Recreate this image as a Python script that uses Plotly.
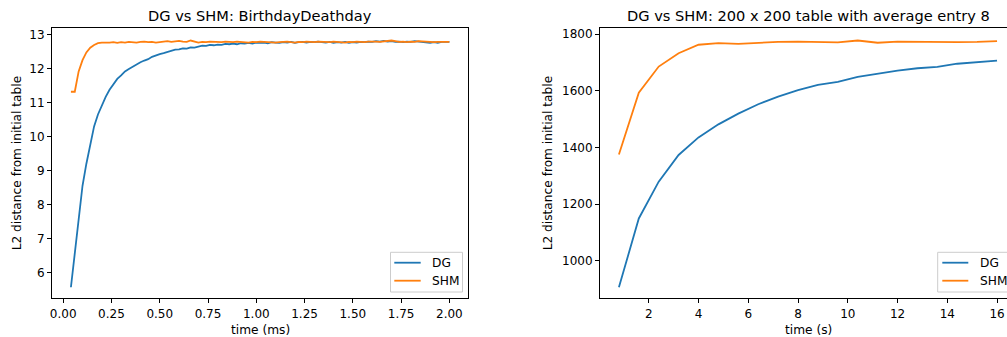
import plotly.graph_objects as go

# ---------------- data ----------------
time_ms = [0.04, 0.06, 0.08, 0.10, 0.12, 0.14, 0.16, 0.18, 0.20, 0.22, 0.24, 0.26, 0.28, 0.30,
           0.32, 0.34, 0.36, 0.38, 0.40, 0.42, 0.44, 0.46, 0.48, 0.50, 0.52, 0.54, 0.56, 0.58,
           0.60, 0.62, 0.64, 0.66, 0.68, 0.70, 0.72, 0.74, 0.76, 0.78, 0.80, 0.82, 0.84, 0.86,
           0.88, 0.90, 0.92, 0.94, 0.96, 0.98, 1.00, 1.02, 1.04, 1.06, 1.08, 1.10, 1.12, 1.14,
           1.16, 1.18, 1.20, 1.22, 1.24, 1.26, 1.28, 1.30, 1.32, 1.34, 1.36, 1.38, 1.40, 1.42,
           1.44, 1.46, 1.48, 1.50, 1.52, 1.54, 1.56, 1.58, 1.60, 1.62, 1.64, 1.66, 1.68, 1.70,
           1.72, 1.74, 1.76, 1.78, 1.80, 1.82, 1.84, 1.86, 1.88, 1.90, 1.92, 1.94, 1.96, 1.98,
           2.00]
dg_birthday = [5.56, 6.55, 7.65, 8.55, 9.20, 9.80, 10.30, 10.65, 10.93, 11.17, 11.38, 11.55, 11.70,
               11.80, 11.92, 11.99, 12.06, 12.13, 12.19, 12.24, 12.28, 12.35, 12.40, 12.43, 12.46,
               12.50, 12.53, 12.56, 12.57, 12.60, 12.59, 12.63, 12.62, 12.66, 12.68, 12.67, 12.70,
               12.69, 12.71, 12.70, 12.73, 12.72, 12.74, 12.72, 12.75, 12.74, 12.76, 12.74, 12.77,
               12.76, 12.77, 12.75, 12.78, 12.77, 12.76, 12.78, 12.77, 12.79, 12.76, 12.78, 12.79,
               12.77, 12.79, 12.78, 12.80, 12.78, 12.77, 12.79, 12.76, 12.78, 12.77, 12.79, 12.76,
               12.78, 12.77, 12.79, 12.78, 12.80, 12.79, 12.81, 12.80, 12.82, 12.80, 12.81, 12.79,
               12.80, 12.78, 12.80, 12.79, 12.81, 12.80, 12.79, 12.77, 12.76, 12.78, 12.76, 12.79,
               12.80, 12.79]
shm_birthday = [11.32, 11.32, 11.92, 12.25, 12.48, 12.62, 12.70, 12.75, 12.77, 12.76, 12.77, 12.78,
                12.76, 12.78, 12.77, 12.79, 12.78, 12.77, 12.79, 12.80, 12.78, 12.79, 12.77, 12.78,
                12.80, 12.81, 12.79, 12.80, 12.82, 12.80, 12.79, 12.83, 12.81, 12.77, 12.79, 12.78,
                12.80, 12.79, 12.77, 12.78, 12.80, 12.79, 12.78, 12.80, 12.79, 12.78, 12.77, 12.79,
                12.78, 12.80, 12.79, 12.78, 12.79, 12.77, 12.78, 12.79, 12.80, 12.78, 12.77, 12.79,
                12.78, 12.80, 12.79, 12.78, 12.80, 12.79, 12.77, 12.78, 12.80, 12.79, 12.78, 12.77,
                12.79, 12.78, 12.80, 12.79, 12.78, 12.80, 12.81, 12.80, 12.79, 12.81, 12.82, 12.83,
                12.81, 12.79, 12.80, 12.78, 12.80, 12.79, 12.81, 12.80, 12.79, 12.80, 12.78, 12.79,
                12.78, 12.79, 12.79]

time_s = [0.8, 1.6, 2.4, 3.2, 4.0, 4.8, 5.6, 6.4, 7.2, 8.0, 8.8, 9.6, 10.4, 11.2, 12.0, 12.8,
          13.6, 14.4, 15.2, 16.0]
dg_table = [907, 1150, 1280, 1374, 1436, 1482, 1520, 1553, 1580, 1603, 1621, 1632, 1650, 1662,
            1672, 1680, 1685, 1696, 1702, 1707]
shm_table = [1376, 1594, 1686, 1733, 1763, 1769, 1766, 1770, 1773, 1774, 1773, 1771, 1778, 1770,
             1774, 1773, 1772, 1772, 1773, 1776]

x_ticks_left = [0.0, 0.25, 0.5, 0.75, 1.0, 1.25, 1.5, 1.75, 2.0]
y_ticks_left = [6, 7, 8, 9, 10, 11, 12, 13]
x_ticks_right = [2, 4, 6, 8, 10, 12, 14, 16]
y_ticks_right = [1000, 1200, 1400, 1600, 1800]

BLUE = "#1f77b4"
ORANGE = "#ff7f0e"
FONT = "DejaVu Sans"
W, H = 1007, 337


def px(x):
    return x / W


def py(y):
    return (H - y) / H


fig = go.Figure()
fig.add_trace(go.Scatter(x=time_ms, y=dg_birthday, mode="lines", line=dict(color=BLUE, width=1.8),
                         name="DG", xaxis="x", yaxis="y", showlegend=False))
fig.add_trace(go.Scatter(x=time_ms, y=shm_birthday, mode="lines", line=dict(color=ORANGE, width=1.8),
                         name="SHM", xaxis="x", yaxis="y", showlegend=False))
fig.add_trace(go.Scatter(x=time_s, y=dg_table, mode="lines", line=dict(color=BLUE, width=1.8),
                         name="DG", xaxis="x2", yaxis="y2", showlegend=False))
fig.add_trace(go.Scatter(x=time_s, y=shm_table, mode="lines", line=dict(color=ORANGE, width=1.8),
                         name="SHM", xaxis="x2", yaxis="y2", showlegend=False))

tickfont = dict(family=FONT, size=12, color="black")
common = dict(showgrid=False, zeroline=False, showline=True, linecolor="black", linewidth=1,
              ticks="outside", ticklen=4, tickwidth=1, tickcolor="black", tickfont=tickfont)

ydom = [py(298.3), py(28.3)]

fig.update_layout(
    width=W, height=H,
    margin=dict(l=0, r=0, t=0, b=0, autoexpand=False),
    paper_bgcolor="white", plot_bgcolor="white",
    font=dict(family=FONT, size=12, color="black"),
    xaxis=dict(domain=[px(52), px(468.3)], range=[-0.058, 2.098], anchor="y", mirror=True,
               tickvals=x_ticks_left, ticktext=[f"{v:.2f}" for v in x_ticks_left], **common),
    yaxis=dict(domain=ydom, range=[5.234, 13.19], anchor="x", mirror=True,
               tickvals=y_ticks_left, ticktext=[str(v) for v in y_ticks_left], **common),
    xaxis2=dict(domain=[px(600), 1.0], range=[0.04, 16.40], anchor="y2", mirror=True,
                tickvals=x_ticks_right, ticktext=[str(v) for v in x_ticks_right], **common),
    yaxis2=dict(domain=ydom, range=[868.3, 1821], anchor="x2", mirror=False,
                tickvals=y_ticks_right, ticktext=[str(v) for v in y_ticks_right], **common),
)

annotations = [
    dict(text="DG vs SHM: BirthdayDeathday", x=px(260.2), y=py(16), font=dict(family=FONT, size=14.6)),
    dict(text="DG vs SHM: 200 x 200 table with average entry 8", x=px(808), y=py(16),
         font=dict(family=FONT, size=14.6)),
    dict(text="time (ms)", x=px(260.2), y=py(329.5), font=dict(family=FONT, size=12.2)),
    dict(text="time (s)", x=px(808), y=py(329.5), font=dict(family=FONT, size=12.2)),
    dict(text="L2 distance from initial table", x=px(17), y=py(163.3), textangle=-90,
         font=dict(family=FONT, size=12.2)),
    dict(text="L2 distance from initial table", x=px(548), y=py(163.3), textangle=-90,
         font=dict(family=FONT, size=12.2)),
]
for a in annotations:
    a.update(xref="paper", yref="paper", xanchor="center", yanchor="middle", showarrow=False)

shapes = []
# manual legends (matplotlib-like boxes)
for bx, lx0, lx1, tx, bw in [(390.5, 394.3, 420.7, 430, 72), (937.7, 942.3, 968.3, 977.7, 72)]:
    shapes.append(dict(type="rect", xref="paper", yref="paper",
                       x0=px(bx), x1=px(bx + bw), y0=py(292), y1=py(252.3),
                       line=dict(color="#cccccc", width=1), fillcolor="rgba(255,255,255,0.8)"))
    for yy, col, name in [(262.7, BLUE, "DG"), (280.7, ORANGE, "SHM")]:
        shapes.append(dict(type="line", xref="paper", yref="paper", x0=px(lx0), x1=px(lx1),
                           y0=py(yy), y1=py(yy), line=dict(color=col, width=1.8)))
        annotations.append(dict(text=name, xref="paper", yref="paper", x=px(tx), y=py(yy),
                                xanchor="left", yanchor="middle", showarrow=False,
                                font=dict(family=FONT, size=12.2)))

fig.update_layout(annotations=annotations, shapes=shapes)
fig.write_html("out.html")
